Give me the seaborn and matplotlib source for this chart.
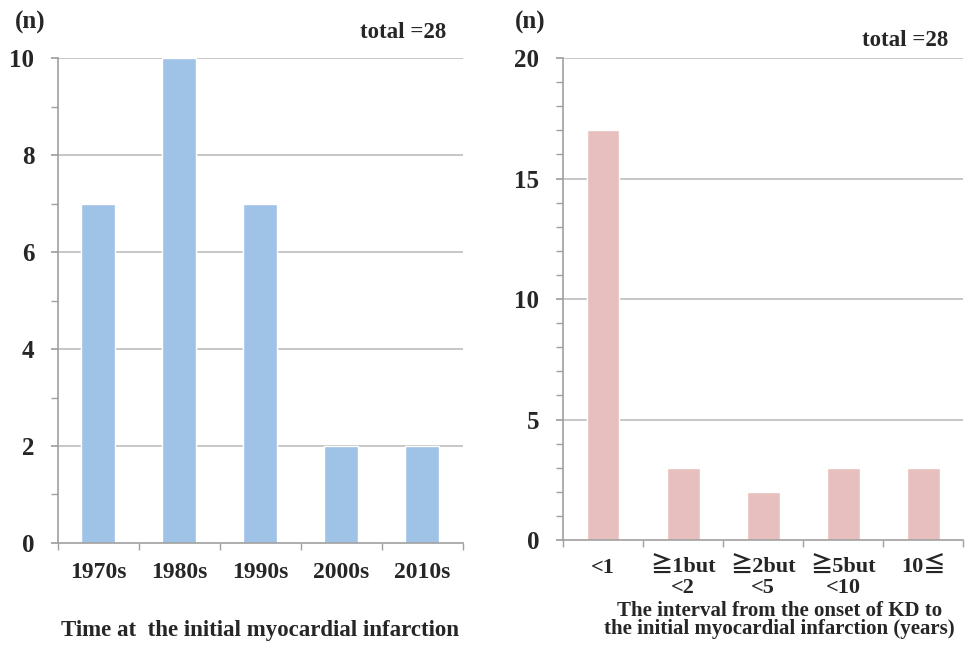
import pandas as pd
import numpy as np
import matplotlib
matplotlib.use("Agg")
import matplotlib.pyplot as plt
import seaborn as sns
from matplotlib.ticker import MultipleLocator, FixedLocator

# datos
decades = ['1970s', '1980s', '1990s', '2000s', '2010s']
decade_counts = [7, 10, 7, 2, 2]

intervals = ['<1', '≧1but\n<2', '≧2but\n<5', '≧5but\n<10', '10≦']
interval_counts = [17, 3, 2, 3, 3]

blue = '#9FC2E7'
pink = '#E8BFBF'
grid_col = '#BEBEBE'
spine_col = '#A0A0A0'

sns.set_theme(style='white')
plt.rcParams['font.family'] = ['Liberation Serif', 'Noto Sans CJK JP', 'DejaVu Sans']
plt.rcParams['font.weight'] = 'bold'

fig = plt.figure(figsize=(9.72, 6.53), dpi=100)
ax1 = fig.add_axes([0.0597, 0.1685, 0.4163, 0.7425])
ax2 = fig.add_axes([0.5792, 0.173, 0.412, 0.738])

df1 = pd.DataFrame({'cat': decades, 'n': decade_counts})
df2 = pd.DataFrame({'cat': intervals, 'n': interval_counts})

sns.barplot(data=df1, x='cat', y='n', color=blue, width=0.42, saturation=1, ax=ax1)
sns.barplot(data=df2, x='cat', y='n', color=pink, width=0.41, saturation=1, ax=ax2)


def style_axis(ax, ymax, step, n_x, total_x, total_y):
    ax.set_ylim(0, ymax)
    ax.set_xlim(-0.5, 4.5)
    ax.yaxis.set_major_locator(MultipleLocator(step))
    ax.yaxis.set_minor_locator(MultipleLocator(1))
    for y in np.arange(step, ymax + 0.01, step):
        ax.axhline(y, color=grid_col, lw=1.2, zorder=0)
    for s in ['top', 'right']:
        ax.spines[s].set_visible(False)
    for s in ['left', 'bottom']:
        ax.spines[s].set_color(spine_col)
        ax.spines[s].set_linewidth(1.2)
    ax.xaxis.set_minor_locator(FixedLocator(np.arange(-0.5, 5, 1)))
    ax.tick_params(axis='x', which='major', length=0, pad=14, labelsize=17)
    ax.tick_params(axis='x', which='minor', length=5, color=spine_col, direction='out', bottom=True)
    ax.tick_params(axis='y', which='both', length=5, color=spine_col, direction='out', left=True)
    ax.tick_params(axis='y', which='major', labelsize=18, pad=12)
    ax.set_ylabel('')
    for lbl in ax.get_xticklabels() + ax.get_yticklabels():
        lbl.set_fontweight('bold')
    ax.text(n_x, 1.074, '(n)', transform=ax.transAxes, fontsize=18, fontweight='bold',
            ha='left', va='center')
    ax.text(total_x, total_y, 'total =28', transform=ax.transAxes, fontsize=16.5, fontweight='bold',
            ha='right', va='center')


style_axis(ax1, 10, 2, -0.106, 0.96, 1.052)
style_axis(ax2, 20, 5, -0.12, 0.9625, 1.037)

ax1.set_xlabel('Time at  the initial myocardial infarction', fontsize=16.5, fontweight='bold', labelpad=26)
ax2.set_xlabel('The interval from the onset of KD to\nthe initial myocardial infarction (years)',
               fontsize=15, fontweight='bold', labelpad=2, linespacing=0.88)
ax2.xaxis.label.set_x(0.54)
ax2.tick_params(axis='x', which='major', pad=13, labelsize=16)
for lbl in ax2.get_xticklabels():
    lbl.set_linespacing(1.0)

fig.savefig('out.png', dpi=100)
